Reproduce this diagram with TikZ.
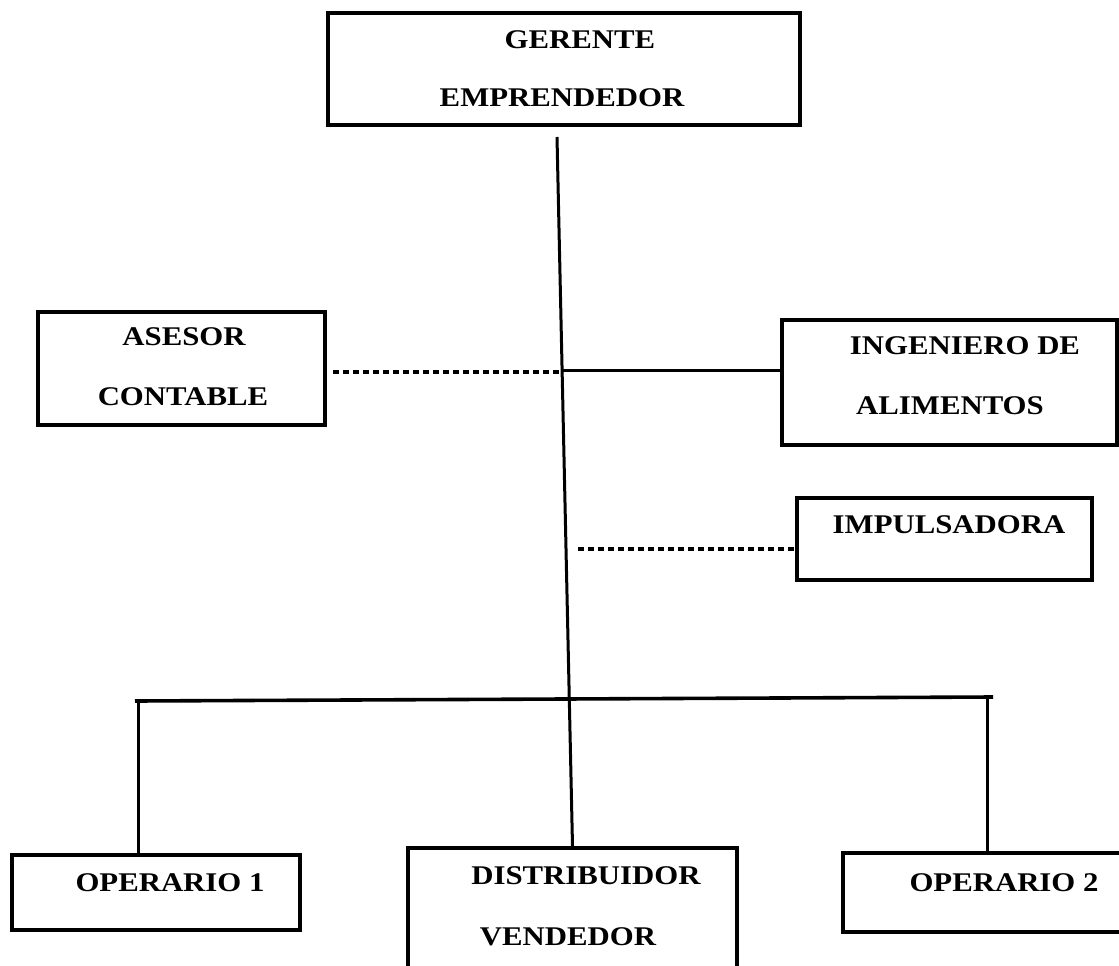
\documentclass[tikz,border=0pt]{standalone}
\usepackage{fontspec}
\setmainfont{Liberation Serif}[FakeStretch=1.14,BoldFeatures={FakeStretch=1.14}]
\begin{document}
\begin{tikzpicture}[x=1pt,y=-1pt,
  box/.style={draw,line width=4pt,rectangle,inner sep=0pt},
  lbl/.style={inner sep=0pt,anchor=center,font=\fontsize{27}{32}\selectfont\bfseries},
  solidline/.style={line width=3pt},
  busline/.style={line width=3.6pt},
  dotline/.style={line width=3.6pt,dash pattern=on 6pt off 4pt}]
\useasboundingbox (0,0) rectangle (1119,966);

% boxes
\node[box,minimum width=472pt,minimum height=112pt] (ger) at (564,69) {};
\node[box,minimum width=287pt,minimum height=113pt] (ase) at (181.5,368.5) {};
\node[box,minimum width=335pt,minimum height=125pt] (ing) at (949.5,382.5) {};
\node[box,minimum width=295pt,minimum height=82pt] (imp) at (944.5,539) {};
\node[box,minimum width=288pt,minimum height=75pt] (op1) at (156,892.5) {};
\node[box,minimum width=329pt,minimum height=132pt] (dis) at (572.5,914) {};
\node[box,minimum width=280pt,minimum height=79pt] (op2) at (983,892.5) {};

% labels
\node[lbl] (gerA) at (580,40) {GERENTE};
\node[lbl] (gerB) at (562,98) {EMPRENDEDOR};
\node[lbl] (aseA) at (184,337) {ASESOR};
\node[lbl] (aseB) at (183,397) {CONTABLE};
\node[lbl] (ingA) at (965,346) {INGENIERO DE};
\node[lbl] (ingB) at (950,406) {ALIMENTOS};
\node[lbl] (impA) at (949,525) {IMPULSADORA};
\node[lbl] (op1A) at (170,883) {OPERARIO 1};
\node[lbl] (disA) at (586,876) {DISTRIBUIDOR};
\node[lbl] (disB) at (568,937) {VENDEDOR};
\node[lbl] (op2A) at (1004,883) {OPERARIO 2};

% junction points
\coordinate (spTop) at (557,137);
\coordinate (jIng) at (562,370);
\coordinate (jAse) at (563,372);
\coordinate (aseEnd) at (333,372);
\coordinate (impStart) at (578,549);
\coordinate (busL) at (135,701);
\coordinate (busR) at (993,697);
\coordinate (dropL) at (138,703);
\coordinate (dropR) at (987,698);

% connectors
\draw[solidline] (spTop) -- (dis.north);
\draw[solidline] (jIng) -- (ing.west |- jIng);
\draw[dotline] (aseEnd) -- (jAse);
\draw[dotline] (impStart) -- (imp.west |- impStart);
\draw[busline] (busL) -- (busR);
\draw[solidline] (dropL) -- (op1.north -| dropL);
\draw[solidline] (dropR) -- (op2.north -| dropR);
\end{tikzpicture}
\end{document}
